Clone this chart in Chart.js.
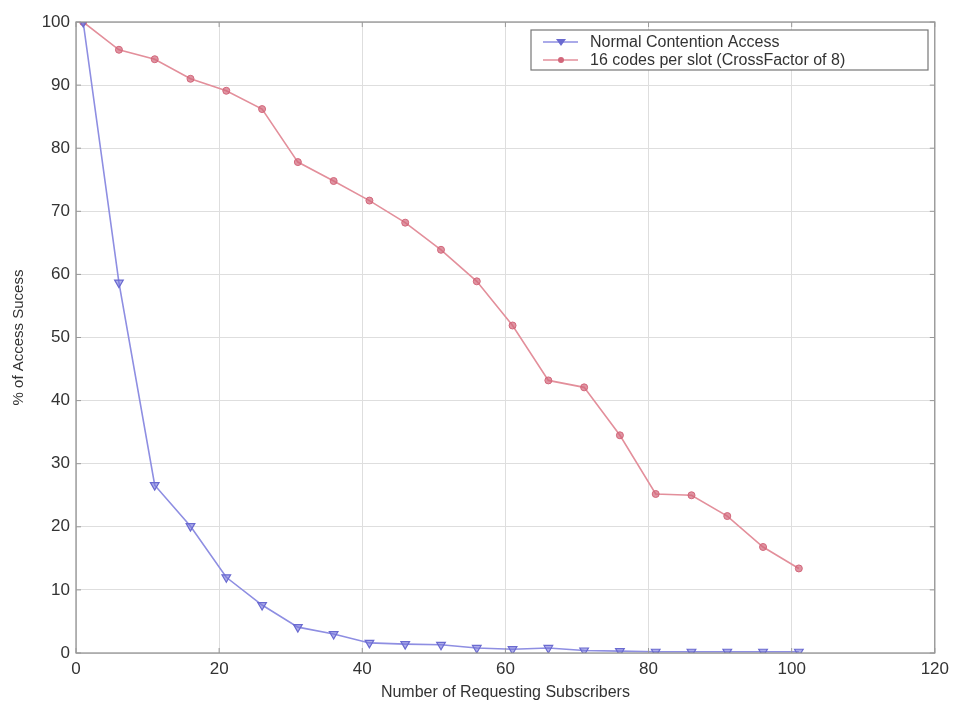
<!DOCTYPE html>
<html>
<head>
<meta charset="utf-8">
<script src="https://cdn.jsdelivr.net/npm/chart.js@4.4.1/dist/chart.umd.min.js"></script>
<style>
html,body{margin:0;padding:0;background:#fff;}
#wrap{width:955px;height:702px;position:relative;}
</style>
</head>
<body>
<div id="wrap"><canvas id="c" width="955" height="702"></canvas></div>
<script>
const subscribers = [1,6,11,16,21,26,31,36,41,46,51,56,61,66,71,76,81,86,91,96,101];
const normalAccess = [100,58.7,26.6,20.1,12.0,7.6,4.1,3.0,1.6,1.4,1.3,0.8,0.6,0.8,0.4,0.3,0.2,0.2,0.2,0.2,0.2];
const codesPerSlot = [100,95.6,94.1,91.0,89.1,86.2,77.8,74.8,71.7,68.2,63.9,58.9,51.9,43.2,42.1,34.5,25.2,25.0,21.7,16.8,13.4];
const seriesNames = ["Normal Contention Access","16 codes per slot (CrossFactor of 8)"];
const xTicks = [0,20,40,60,80,100,120];
const yTicks = [0,10,20,30,40,50,60,70,80,90,100];
const xTitle = "Number of Requesting Subscribers";
const yTitle = "% of Access Sucess";

const FONT = "'Liberation Sans', Arial, sans-serif";
const blueLine = '#8e8ee2', blueMark = '#6a6ad0';
const redLine = '#e38f9b', redMark = '#d2667a';

const toPts = (ys) => subscribers.map((x,i)=>({x:x,y:ys[i]}));

const boxPlugin = {
  id:'boxPlugin',
  afterDatasetsDraw(chart){
    const {ctx, chartArea:a, scales:{x,y}} = chart;
    ctx.save();
    ctx.strokeStyle = '#8c8c8c';
    ctx.lineWidth = 1.2;
    ctx.strokeRect(a.left, a.top, a.right-a.left, a.bottom-a.top);
    ctx.strokeStyle = '#999';
    ctx.lineWidth = 1;
    xTicks.forEach(v=>{const px=x.getPixelForValue(v);
      ctx.beginPath();ctx.moveTo(px,a.bottom);ctx.lineTo(px,a.bottom-5);ctx.stroke();
      ctx.beginPath();ctx.moveTo(px,a.top);ctx.lineTo(px,a.top+5);ctx.stroke();});
    yTicks.forEach(v=>{const py=y.getPixelForValue(v);
      ctx.beginPath();ctx.moveTo(a.left,py);ctx.lineTo(a.left+5,py);ctx.stroke();
      ctx.beginPath();ctx.moveTo(a.right,py);ctx.lineTo(a.right-5,py);ctx.stroke();});
    const lx=531, ly=30, lw=397, lh=40;
    ctx.fillStyle='#fff';
    ctx.fillRect(lx,ly,lw,lh);
    ctx.strokeStyle='#777';
    ctx.lineWidth=1.2;
    ctx.strokeRect(lx,ly,lw,lh);
    const rows=[{name:seriesNames[0],line:blueLine,mark:blueMark,tri:true,y:ly+12},
                {name:seriesNames[1],line:redLine,mark:redMark,tri:false,y:ly+30}];
    rows.forEach(r=>{
      ctx.strokeStyle=r.line;ctx.lineWidth=1.5;
      ctx.beginPath();ctx.moveTo(543,r.y);ctx.lineTo(578,r.y);ctx.stroke();
      ctx.fillStyle=r.mark;
      if(r.tri){ctx.beginPath();ctx.moveTo(556,r.y-3);ctx.lineTo(566,r.y-3);ctx.lineTo(561,r.y+4);ctx.closePath();ctx.fill();}
      else{ctx.beginPath();ctx.arc(561,r.y,3,0,Math.PI*2);ctx.fill();}
      ctx.fillStyle='#333';
      ctx.font='16px '+FONT;
      ctx.textBaseline='middle';
      ctx.textAlign='left';
      ctx.fillText(r.name,590,r.y+1);
    });
    ctx.restore();
  }
};

new Chart(document.getElementById('c'),{
  type:'line',
  data:{datasets:[
    {label:seriesNames[0],data:toPts(normalAccess),borderColor:blueLine,backgroundColor:blueMark,
     borderWidth:1.6,pointStyle:'triangle',rotation:180,pointRadius:5,pointBorderColor:blueMark,
     pointBackgroundColor:'rgba(120,120,220,0.6)',pointBorderWidth:1.2,tension:0},
    {label:seriesNames[1],data:toPts(codesPerSlot),borderColor:redLine,backgroundColor:redMark,
     borderWidth:1.6,pointStyle:'circle',pointRadius:3.5,pointBorderColor:redMark,
     pointBackgroundColor:'rgba(210,102,122,0.7)',pointBorderWidth:1,tension:0}
  ]},
  options:{
    responsive:false,animation:false,
    layout:{padding:{top:22,right:18,left:0,bottom:0}},
    plugins:{legend:{display:false},tooltip:{enabled:false}},
    scales:{
      x:{type:'linear',min:0,max:120,
        afterBuildTicks(s){s.ticks=xTicks.map(v=>({value:v}));},
        afterFit(s){s.height=49;},
        grid:{color:'#dedede',lineWidth:1,drawTicks:false},
        border:{display:false},
        ticks:{color:'#333',font:{family:FONT,size:17},padding:6,maxRotation:0},
        title:{display:true,text:xTitle,color:'#333',font:{family:FONT,size:16},padding:{top:0,bottom:0}}
      },
      y:{type:'linear',min:0,max:100,
        afterBuildTicks(s){s.ticks=yTicks.map(v=>({value:v}));},
        afterFit(s){s.width=76;},
        grid:{color:'#dedede',lineWidth:1,drawTicks:false},
        border:{display:false},
        ticks:{color:'#333',font:{family:FONT,size:17},padding:6},
        title:{display:true,text:yTitle,color:'#333',font:{family:FONT,size:15},padding:{top:10,bottom:0}}
      }
    }
  },
  plugins:[boxPlugin]
});
</script>
</body>
</html>
